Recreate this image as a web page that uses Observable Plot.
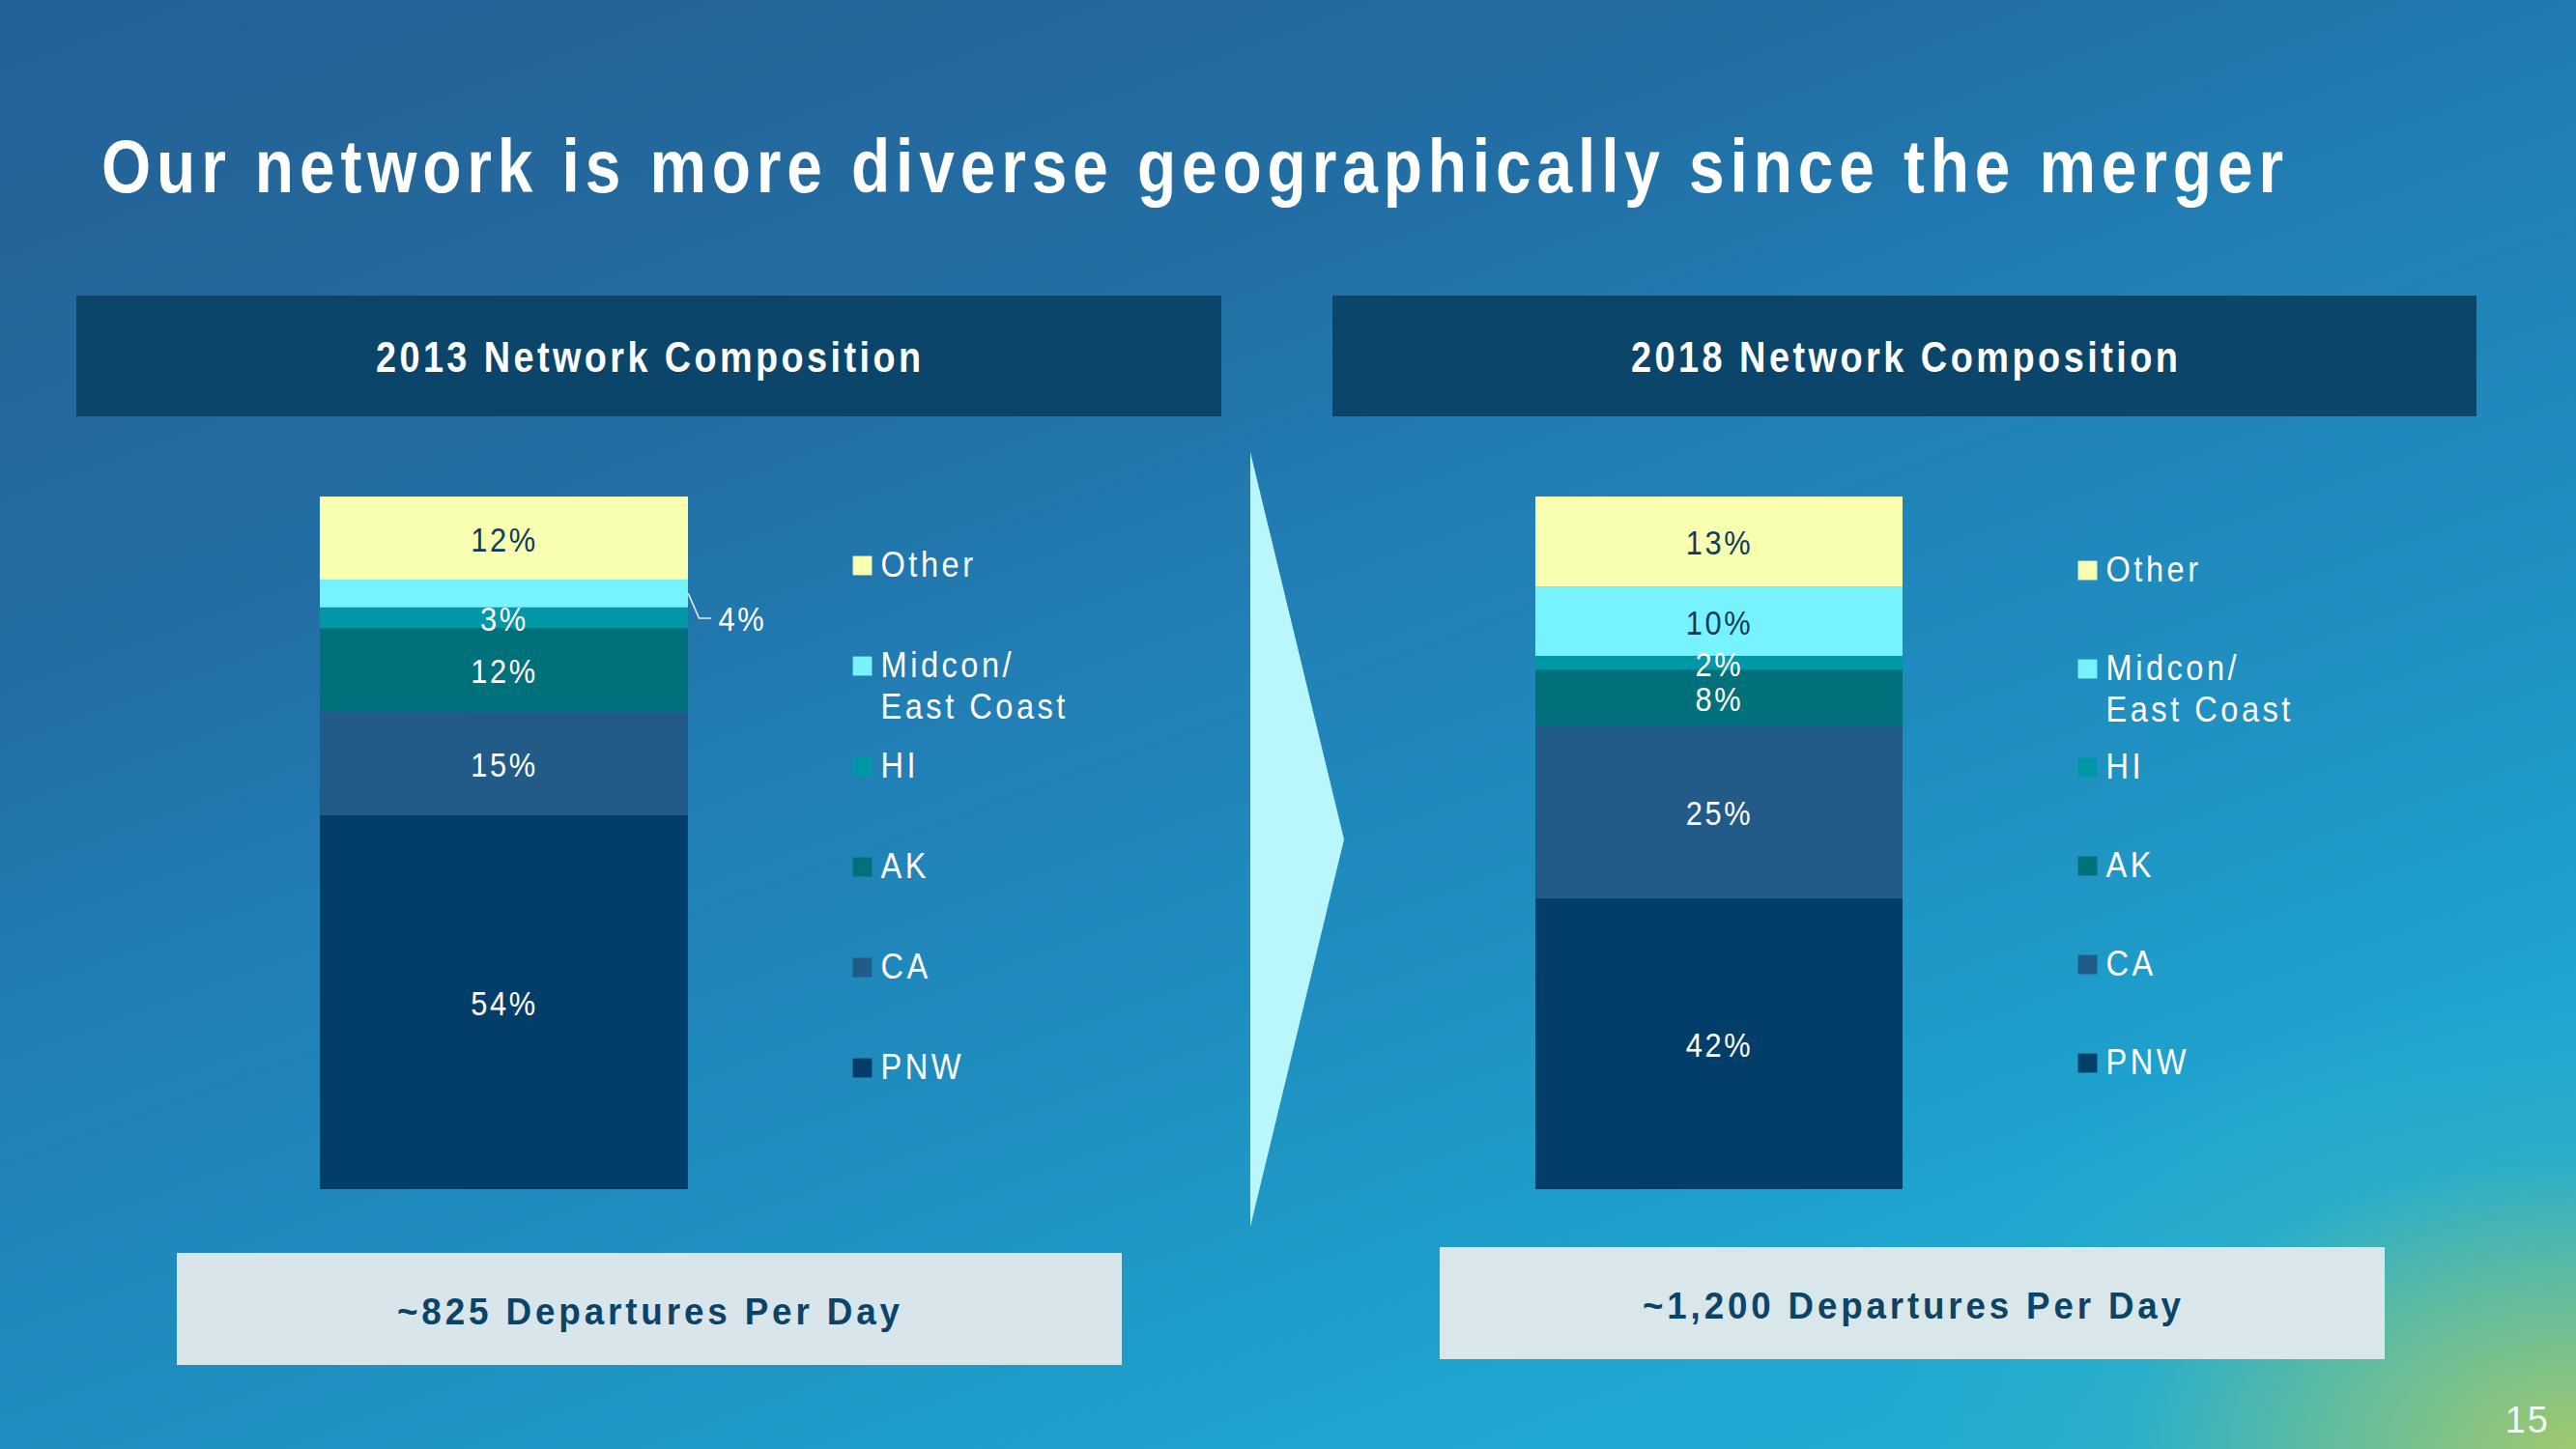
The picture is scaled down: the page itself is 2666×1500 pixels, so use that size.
<!DOCTYPE html>
<html>
<head>
<meta charset="utf-8">
<script src="https://cdn.jsdelivr.net/npm/d3@7"></script>
<script src="https://cdn.jsdelivr.net/npm/@observablehq/plot@0.6"></script>
<style>
  html, body { margin: 0; padding: 0; }
  body { width: 2666px; height: 1500px; overflow: hidden; }
  #slide {
    position: absolute; left: 0; top: 0; width: 2666px; height: 1500px; overflow: hidden;
    font-family: "Liberation Sans", Arial, sans-serif;
    background:
      radial-gradient(ellipse 720px 470px at 100% 100%, rgba(160,200,110,1) 0%, rgba(115,192,145,0.8) 35%, rgba(60,180,190,0.35) 65%, rgba(30,170,210,0) 100%),
      linear-gradient(160deg, #22609a 0%, #246599 10%, #226fa5 30%, #2180b6 45%, #1f8dbf 60%, #1f98c6 70%, #1ea6d1 82%, #20b0d2 100%);
  }
  svg { overflow: visible; }
</style>
</head>
<body>
<div id="slide"></div>
<script>
// ---------- data ----------
const regions = ["PNW", "CA", "AK", "HI", "Midcon/East Coast", "Other"];
const legendNames = ["PNW", "CA", "AK", "HI", "Midcon/\nEast Coast", "Other"];
const colors = ["#023e69", "#225b88", "#00707a", "#0097a6", "#77f3ff", "#f9ffb1"];
const share2013 = [54, 15, 12, 3, 4, 12];
const share2018 = [42, 25, 8, 2, 10, 13];
const years = ["2013", "2018"];
const departures = ["~825", "~1,200"];
const titleText = "Our network is more diverse geographically since the merger";
const darkLabelRegions = ["Other", "Midcon/East Coast"];
const pageNumber = "15";

// ---------- helpers ----------
const slide = document.getElementById("slide");
const FONT = "'Liberation Sans', Arial, sans-serif";

function addBox(x, y, w, h, color) {
  const d = document.createElement("div");
  d.style.cssText = `position:absolute;left:${x}px;top:${y}px;width:${w}px;height:${h}px;background:${color};`;
  slide.appendChild(d);
}

function addText(str, o) {
  const ls = o.ls || 0;
  const div = document.createElement("div");
  div.style.cssText = `position:absolute;white-space:nowrap;line-height:1;font-family:${FONT};font-size:${o.size}px;font-weight:${o.weight || 400};color:${o.color || "#fff"};letter-spacing:${ls}px;`;
  const span = document.createElement("span");
  span.style.display = "inline-block";
  span.style.transformOrigin = "0 0";
  span.textContent = str;
  div.appendChild(span);
  slide.appendChild(div);
  const natural = span.getBoundingClientRect().width - ls;
  const s = o.width ? o.width / natural : 1;
  span.style.transform = `scaleX(${s})`;
  const vis = natural * s;
  const left = o.anchor === "middle" ? o.x - vis / 2 : o.anchor === "end" ? o.x - vis : o.x;
  div.style.left = left + "px";
  div.style.top = (o.baseline - 0.8465 * o.size) + "px";
}

function place(node, left, top) {
  const d = document.createElement("div");
  d.style.cssText = `position:absolute;left:${left}px;top:${top}px;`;
  d.appendChild(node);
  slide.appendChild(d);
}

// narrow the glyphs of every text of a Plot svg horizontally (around each text's anchor)
function condense(svg, s) {
  svg.querySelectorAll("text").forEach(t => {
    const x = +(t.getAttribute("x") || 0);
    if (t.hasAttribute("x")) t.removeAttribute("x");
    const tr = t.getAttribute("transform") || "";
    t.setAttribute("transform", `${tr} translate(${x},0) scale(${s},1)`);
  });
  return svg;
}

const BAR_H = 717;
const DARK_TEXT = "#0e3d5c";
const LABEL_SIZE = 35;

function barChart(values, barWidth, callout) {
  const data = regions.map((region, i) => ({region, pct: values[i]}));
  const label = d => d.pct + "%";
  const isCallout = d => callout && d.region === callout.region;
  const isDark = d => darkLabelRegions.includes(d.region);
  const marks = [
    Plot.rectY(data, Plot.stackY({x1: 0, x2: 1, y: "pct", fill: "region"})),
    Plot.text(data, Plot.stackY({x: 0.5, y: "pct", text: d => (isDark(d) || isCallout(d)) ? "" : label(d), fill: "#ffffff", fontSize: LABEL_SIZE, dy: 2})),
    Plot.text(data, Plot.stackY({x: 0.5, y: "pct", text: d => (isDark(d) && !isCallout(d)) ? label(d) : "", fill: DARK_TEXT, fontSize: LABEL_SIZE, dy: 2}))
  ];
  if (callout) {
    let acc = 0; const mid = {};
    data.forEach(d => { mid[d.region] = acc + d.pct / 2; acc += d.pct; });
    const yFrom = mid[callout.region], yTo = mid[callout.alignWith];
    const k = 1 / barWidth; // pixels -> x units
    marks.push(Plot.line([{x: 1, y: yFrom}, {x: 1 + 11 * k, y: yTo}, {x: 1 + 23 * k, y: yTo}],
      {x: "x", y: "y", stroke: "#e6f0f6", strokeWidth: 1.6}));
    marks.push(Plot.text(data.filter(isCallout), {x: () => 1 + 31 * k, y: () => yTo, text: label, textAnchor: "start", fill: "#ffffff", fontSize: LABEL_SIZE, dy: 2}));
  }
  const svg = Plot.plot({
    width: barWidth + 160, height: BAR_H,
    marginTop: 0, marginRight: 160, marginBottom: 0, marginLeft: 0,
    x: {domain: [0, 1], axis: null},
    y: {domain: [0, 100], axis: null},
    color: {domain: regions, range: colors},
    style: {background: "transparent", overflow: "visible", fontFamily: FONT, fontSize: LABEL_SIZE + "px", letterSpacing: "3px"},
    marks
  });
  return condense(svg, 0.88);
}

function legendPlot(y0, step) {
  const order = regions.slice().reverse();
  const lines = r => legendNames[regions.indexOf(r)].split("\n");
  const svg = Plot.plot({
    width: 420, height: 620,
    marginTop: 0, marginRight: 0, marginBottom: 0, marginLeft: 10,
    y: {type: "point", domain: order, range: [y0, y0 + step * (order.length - 1)], padding: 0, axis: null},
    color: {domain: regions, range: colors},
    style: {background: "transparent", overflow: "visible", fontFamily: FONT, fontSize: "37px", letterSpacing: "4px"},
    marks: [
      Plot.dot(order, {y: d => d, fill: d => d, symbol: "square", r: 11.2, frameAnchor: "left"}),
      Plot.text(order, {y: d => d, text: d => lines(d)[0], frameAnchor: "left", dx: 19, textAnchor: "start", fill: "#ffffff", fontSize: 37}),
      Plot.text(order, {y: d => d, text: d => lines(d)[1] || "", frameAnchor: "left", dx: 19, dy: 43, textAnchor: "start", fill: "#ffffff", fontSize: 37})
    ]
  });
  return condense(svg, 0.88);
}

// ---------- layout ----------
// title
addText(titleText, {x: 105, baseline: 199, size: 78, weight: 700, ls: 7, width: 2258});

// header boxes
addBox(79, 306, 1185, 125, "#0b4569");
addBox(1379, 306, 1184, 125, "#0b4569");
addText(years[0] + " Network Composition", {x: 671, baseline: 385, size: 44, weight: 700, ls: 4, width: 564, anchor: "middle"});
addText(years[1] + " Network Composition", {x: 1971, baseline: 385, size: 44, weight: 700, ls: 4, width: 566, anchor: "middle"});

// arrow
const NS = "http://www.w3.org/2000/svg";
const arrow = document.createElementNS(NS, "svg");
arrow.setAttribute("width", 2666); arrow.setAttribute("height", 1500);
arrow.style.cssText = "position:absolute;left:0;top:0;";
const poly = document.createElementNS(NS, "polygon");
poly.setAttribute("points", "1294,468 1391,869 1294,1270");
poly.setAttribute("fill", "#b9f7fd");
arrow.appendChild(poly);
slide.appendChild(arrow);

// charts
place(barChart(share2013, 381, {region: "Midcon/East Coast", alignWith: "HI"}), 331, 514);
place(barChart(share2018, 380, null), 1589, 514);

// legends
place(legendPlot(43, 104.6), 882, 540);
place(legendPlot(48, 102.8), 2150, 540);

// bottom boxes
addBox(183, 1297, 978, 116, "#d8e5ea");
addBox(1490, 1291, 978, 116, "#d9e6ea");
addText(departures[0] + " Departures Per Day", {x: 671, baseline: 1371, size: 38, weight: 700, ls: 4, width: 520, anchor: "middle", color: "#0c4468"});
addText(departures[1] + " Departures Per Day", {x: 1978, baseline: 1365, size: 38, weight: 700, ls: 4, width: 557, anchor: "middle", color: "#0c4468"});

// page number
addText(pageNumber, {x: 2637, baseline: 1483, size: 38, ls: 2, anchor: "end", color: "#f2f8f2"});
</script>
</body>
</html>
